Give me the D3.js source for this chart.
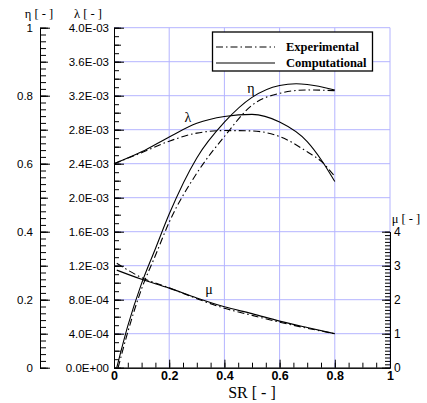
<!DOCTYPE html>
<html>
<head>
<meta charset="utf-8">
<script src="https://cdn.jsdelivr.net/npm/d3@7"></script>
<style>
  body { margin: 0; background: #fff; }
  svg { display: block; }
</style>
</head>
<body>
<svg id="chart" width="427" height="403"></svg>
<script>
// slip ratio samples and curves
const srEtaComp = [0.01, 0.05, 0.1, 0.15, 0.2, 0.3, 0.4, 0.5, 0.6, 0.66, 0.7, 0.8];
const etaComp   = [0, 0.123, 0.248, 0.35, 0.452, 0.617, 0.722, 0.795, 0.830, 0.835, 0.833, 0.817];
const srEtaExp  = [0.015, 0.05, 0.1, 0.15, 0.2, 0.3, 0.4, 0.5, 0.6, 0.7, 0.8];
const etaExp    = [0, 0.105, 0.232, 0.33, 0.428, 0.572, 0.68, 0.772, 0.807, 0.817, 0.815];

const srLam   = [0, 0.1, 0.2, 0.3, 0.4, 0.5, 0.6, 0.7, 0.75, 0.8];
const lamComp = [2.40e-3, 2.54e-3, 2.715e-3, 2.875e-3, 2.955e-3, 2.98e-3, 2.89e-3, 2.66e-3, 2.45e-3, 2.19e-3];
const lamExp  = [2.40e-3, 2.53e-3, 2.665e-3, 2.76e-3, 2.79e-3, 2.785e-3, 2.72e-3, 2.54e-3, 2.43e-3, 2.25e-3];

const srMu   = [0.01, 0.1, 0.2, 0.3, 0.4, 0.5, 0.6, 0.7, 0.8];
const muComp = [2.87, 2.6, 2.34, 2.05, 1.79, 1.59, 1.37, 1.18, 1.0];
const muExp  = [3.07, 2.65, 2.35, 2.03, 1.75, 1.54, 1.34, 1.16, 1.0];

const srTicks  = [0, 0.2, 0.4, 0.6, 0.8, 1];
const etaTicks = [0, 0.2, 0.4, 0.6, 0.8, 1];
const lamTicks = [0, 4e-4, 8e-4, 1.2e-3, 1.6e-3, 2.0e-3, 2.4e-3, 2.8e-3, 3.2e-3, 3.6e-3, 4.0e-3];
const lamTickLabels = ["0.0E+00", "4.0E-04", "8.0E-04", "1.2E-03", "1.6E-03", "2.0E-03",
                       "2.4E-03", "2.8E-03", "3.2E-03", "3.6E-03", "4.0E-03"];
const muTicks  = [0, 1, 2, 3, 4];
const legendNames = ["Experimental", "Computational"];

const svg = d3.select("#chart");
const sans = "'Liberation Sans', Arial, Helvetica, sans-serif";
const serif = "'Liberation Serif', 'Times New Roman', Times, serif";
const gridColor = "#b4b4ff";
const dashDot = "7,3,1.5,3";

const x = d3.scaleLinear().domain([0, 1]).range([114, 390]);
const yLam = d3.scaleLinear().domain([0, 4e-3]).range([367.7, 27.7]);
const yEta = d3.scaleLinear().domain([0, 1]).range([367.7, 27.7]);
const yMu = d3.scaleLinear().domain([0, 4]).range([367.7, 231.7]);

// grid
svg.append("g").selectAll("line.v")
  .data(srTicks.slice(1))
  .join("line")
  .attr("x1", d => x(d)).attr("x2", d => x(d))
  .attr("y1", yLam(0)).attr("y2", yLam(4e-3))
  .attr("stroke", gridColor).attr("stroke-width", 1);
svg.append("g").selectAll("line.h")
  .data(lamTicks.slice(1))
  .join("line")
  .attr("x1", x(0)).attr("x2", x(1))
  .attr("y1", d => yLam(d)).attr("y2", d => yLam(d))
  .attr("stroke", gridColor).attr("stroke-width", 1);

function styleAxis(g, size, weight) {
  g.attr("font-family", sans).attr("font-size", size).attr("font-weight", weight || "normal");
  g.selectAll("path,line").attr("stroke", "#000");
  g.selectAll("text").attr("fill", "#000");
}

// lambda axis (left edge of plot)
const lamMinor = d3.range(0, 41).map(i => i / 10000);
const lamMid = d3.range(0, 21).map(i => i * 2 / 10000);
svg.append("g").attr("transform", `translate(${x(0)},0)`)
  .call(d3.axisLeft(yLam).tickValues(lamMinor).tickSizeInner(-5).tickSizeOuter(0).tickFormat(""))
  .call(g => styleAxis(g, 11.5));
svg.append("g").attr("transform", `translate(${x(0)},0)`)
  .call(d3.axisLeft(yLam).tickValues(lamMid).tickSizeInner(-7).tickSizeOuter(0).tickFormat(""))
  .call(g => styleAxis(g, 11.5));
svg.append("g").attr("transform", `translate(${x(0)},0)`)
  .call(d3.axisLeft(yLam).tickValues(lamTicks).tickSizeInner(-10).tickSizeOuter(0).tickPadding(5)
    .tickFormat((d, i) => lamTickLabels[i]))
  .call(g => styleAxis(g, 11.5));

// eta axis (far left)
const etaMinor = d3.range(0, 51).map(i => i / 50);
const etaMid = d3.range(0, 11).map(i => i / 10);
svg.append("g").attr("transform", "translate(40,0)")
  .call(d3.axisLeft(yEta).tickValues(etaMinor).tickSizeInner(-6).tickSizeOuter(0).tickFormat(""))
  .call(g => styleAxis(g, 11.5));
svg.append("g").attr("transform", "translate(40,0)")
  .call(d3.axisLeft(yEta).tickValues(etaMid).tickSizeInner(-8).tickSizeOuter(0).tickFormat(""))
  .call(g => styleAxis(g, 11.5));
svg.append("g").attr("transform", "translate(40,0)")
  .call(d3.axisLeft(yEta).tickValues(etaTicks).tickSizeInner(-10).tickSizeOuter(0).tickPadding(7)
    .tickFormat(d => String(+d.toFixed(1))))
  .call(g => styleAxis(g, 11.5));

// mu axis (right)
const muMinor = d3.range(0, 41).map(i => i / 10);
svg.append("g").attr("transform", `translate(${x(1)},0)`)
  .call(d3.axisRight(yMu).tickValues(muMinor).tickSizeInner(-5).tickSizeOuter(0).tickFormat(""))
  .call(g => styleAxis(g, 12));
svg.append("g").attr("transform", `translate(${x(1)},0)`)
  .call(d3.axisRight(yMu).tickValues(muTicks).tickSizeInner(-8).tickSizeOuter(0).tickPadding(4)
    .tickFormat(d3.format("d")))
  .call(g => styleAxis(g, 12));

// SR axis (bottom)
const srMinor = d3.range(0, 21).map(i => i / 20);
svg.append("g").attr("transform", `translate(0,${yLam(0)})`)
  .call(d3.axisBottom(x).tickValues(srMinor).tickSizeInner(-5).tickSizeOuter(0).tickFormat(""))
  .call(g => styleAxis(g, 12.5, "bold"));
svg.append("g").attr("transform", `translate(0,${yLam(0)})`)
  .call(d3.axisBottom(x).tickValues(srTicks).tickSizeInner(-8).tickSizeOuter(0).tickPadding(3)
    .tickFormat(d => String(+d.toFixed(1))))
  .call(g => styleAxis(g, 12.5, "bold"));

// axis titles
svg.append("text").attr("x", 252).attr("y", 398).attr("text-anchor", "middle")
  .attr("font-family", serif).attr("font-size", 16).text("SR [ - ]");
svg.append("text").attr("x", 39).attr("y", 18).attr("text-anchor", "middle")
  .attr("font-family", serif).attr("font-size", 12.5).text("η [ - ]");
svg.append("text").attr("x", 88).attr("y", 18).attr("text-anchor", "middle")
  .attr("font-family", serif).attr("font-size", 12.5).text("λ [ - ]");
svg.append("text").attr("x", 406).attr("y", 223).attr("text-anchor", "middle")
  .attr("font-family", serif).attr("font-size", 12.5).text("μ [ - ]");

// curves
function drawCurve(xs, ys, yScale, dashed) {
  const line = d3.line()
    .x((d, i) => x(xs[i]))
    .y(d => yScale(d))
    .curve(d3.curveMonotoneX);
  svg.append("path")
    .attr("d", line(ys))
    .attr("fill", "none")
    .attr("stroke", "#000")
    .attr("stroke-width", 1.1)
    .attr("stroke-dasharray", dashed ? dashDot : null);
}
drawCurve(srLam, lamExp, yLam, true);
drawCurve(srLam, lamComp, yLam, false);
drawCurve(srEtaExp, etaExp, yEta, true);
drawCurve(srEtaComp, etaComp, yEta, false);
drawCurve(srMu, muExp, yMu, true);
drawCurve(srMu, muComp, yMu, false);

// curve labels
svg.append("text").attr("x", 188).attr("y", 122).attr("text-anchor", "middle")
  .attr("font-family", serif).attr("font-size", 14).text("λ");
svg.append("text").attr("x", 251).attr("y", 93).attr("text-anchor", "middle")
  .attr("font-family", serif).attr("font-size", 14).text("η");
svg.append("text").attr("x", 209).attr("y", 294).attr("text-anchor", "middle")
  .attr("font-family", serif).attr("font-size", 14).text("μ");

// legend
const leg = svg.append("g");
leg.append("rect").attr("x", 212.5).attr("y", 32).attr("width", 160).attr("height", 39)
  .attr("fill", "#fff").attr("stroke", "#000").attr("stroke-width", 1.3);
legendNames.forEach((name, i) => {
  const ly = 47 + i * 16;
  leg.append("line").attr("x1", 216).attr("x2", 275).attr("y1", ly).attr("y2", ly)
    .attr("stroke", "#000").attr("stroke-width", 1.1)
    .attr("stroke-dasharray", i === 0 ? dashDot : null);
  leg.append("text").attr("x", 286).attr("y", ly + 4)
    .attr("font-family", serif).attr("font-size", 12.5).attr("font-weight", "bold")
    .text(name);
});
</script>
</body>
</html>
